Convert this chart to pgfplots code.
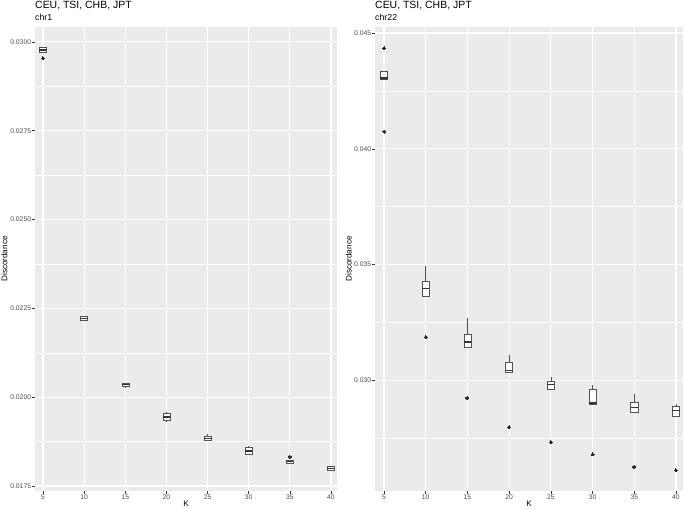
\documentclass[border=0pt]{standalone}
\usepackage{fontspec}
\setmainfont{Liberation Sans}
\usepackage{pgfplots}
\pgfplotsset{compat=1.18}
\usepgfplotslibrary{statistics}

\definecolor{panel}{HTML}{EBEBEB}
\definecolor{ticktext}{HTML}{4D4D4D}
\definecolor{boxline}{HTML}{333333}

\pgfplotsset{
  gg/.style={
    scale only axis, anchor=south west,
    height=464bp,
    axis background/.style={fill=panel},
    axis line style={draw=none},
    xmajorgrids, ymajorgrids, yminorgrids,
    major grid style={white, line width=1.1bp},
    minor grid style={white, line width=0.55bp},
    tick align=outside, major tick length=2.75bp, minor tick length=0pt,
    tick style={boxline, line width=0.5bp},
    xtick pos=bottom, ytick pos=left,
    xtick={5,10,...,40},
    ticklabel style={font=\fontsize{6.8}{8}\selectfont, text=ticktext, inner sep=1bp},
    scaled y ticks=false,
    yticklabel style={/pgf/number format/.cd, fixed, fixed zerofill, assume math mode=true},
    xticklabel style={/pgf/number format/assume math mode=true},
    label style={font=\fontsize{8.2}{10}\selectfont},
    xlabel={K}, ylabel={Discordance},
    xlabel style={at={(axis description cs:0.5,0)}, anchor=base, yshift=-15.7bp},
    boxplot/draw direction=y,
    boxplot/box extend=0.85,
    boxplot/whisker extend=0,
  },
  bx/.style={draw=boxline!85, fill=white, line width=0.5bp,
    mark=*, mark size=1.5bp, mark options={fill=black!85, draw=black!85, line width=0pt},
    boxplot/every median/.style={draw=boxline, line width=1.4bp}},
}

\begin{document}
\begin{tikzpicture}
\useasboundingbox (0,0) rectangle (685bp,510bp);

% chr1
\begin{axis}[gg, at={(35bp,19bp)}, width=302bp,
  xmin=4.03, xmax=40.73, ymin=0.01736, ymax=0.03042,
  ytick={0.0175,0.0200,0.0225,0.0250,0.0275,0.0300},
  minor ytick={0.01875,0.02125,0.02375,0.02625,0.02875},
  yticklabel style={/pgf/number format/precision=4},
  ylabel style={at={(axis description cs:-0.101,0.5)}, anchor=center}]
\addplot[bx, boxplot prepared={draw position=5, lower whisker=0.02971, lower quartile=0.02971, median=0.02977, upper quartile=0.02984, upper whisker=0.02984}] coordinates {(0,0.02954)};
\addplot[bx, boxplot prepared={draw position=10, lower whisker=0.022154, lower quartile=0.022154, median=0.02221, upper quartile=0.022266, upper whisker=0.022266}] coordinates {};
\addplot[bx, boxplot prepared={draw position=15, lower whisker=0.020251, lower quartile=0.02030, median=0.02035, upper quartile=0.02040, upper whisker=0.02040}] coordinates {};
\addplot[bx, boxplot prepared={draw position=20, lower whisker=0.019310, lower quartile=0.019338, median=0.019443, upper quartile=0.019547, upper whisker=0.019575}] coordinates {};
\addplot[bx, boxplot prepared={draw position=25, lower whisker=0.018795, lower quartile=0.018795, median=0.01884, upper quartile=0.018888, upper whisker=0.018955}] coordinates {};
\addplot[bx, boxplot prepared={draw position=30, lower whisker=0.018364, lower quartile=0.018392, median=0.018485, upper quartile=0.018578, upper whisker=0.018626}] coordinates {};
\addplot[bx, boxplot prepared={draw position=35, lower whisker=0.018148, lower quartile=0.018148, median=0.018185, upper quartile=0.018223, upper whisker=0.018223}] coordinates {(0,0.018325)};
\addplot[bx, boxplot prepared={draw position=40, lower whisker=0.01795, lower quartile=0.01795, median=0.0180, upper quartile=0.018054, upper whisker=0.018054}] coordinates {};
\end{axis}

% chr22
\begin{axis}[gg, at={(375bp,19bp)}, width=308bp,
  xmin=3.92, xmax=40.84, ymin=0.02522, ymax=0.04526,
  ytick={0.030,0.035,0.040,0.045},
  minor ytick={0.0275,0.0325,0.0375,0.0425},
  yticklabel style={/pgf/number format/precision=3},
  ylabel style={at={(axis description cs:-0.085,0.5)}, anchor=center}]
\addplot[bx, boxplot prepared={draw position=5, lower whisker=0.043004, lower quartile=0.043004, median=0.04306, upper quartile=0.043362, upper whisker=0.043362}] coordinates {(0,0.04434) (0,0.040746)};
\addplot[bx, boxplot prepared={draw position=10, lower whisker=0.033634, lower quartile=0.033634, median=0.033978, upper quartile=0.034267, upper whisker=0.034927}] coordinates {(0,0.031866)};
\addplot[bx, boxplot prepared={draw position=15, lower whisker=0.031435, lower quartile=0.031435, median=0.031651, upper quartile=0.031996, upper whisker=0.032685}] coordinates {(0,0.029237)};
\addplot[bx, boxplot prepared={draw position=20, lower whisker=0.030332, lower quartile=0.030332, median=0.030431, upper quartile=0.030763, upper whisker=0.031078}] coordinates {(0,0.027974)};
\addplot[bx, boxplot prepared={draw position=25, lower whisker=0.029612, lower quartile=0.029612, median=0.029815, upper quartile=0.029957, upper whisker=0.030129}] coordinates {(0,0.027328)};
\addplot[bx, boxplot prepared={draw position=30, lower whisker=0.028953, lower quartile=0.028953, median=0.029022, upper quartile=0.029612, upper whisker=0.029815}] coordinates {(0,0.026810)};
\addplot[bx, boxplot prepared={draw position=35, lower whisker=0.028634, lower quartile=0.028634, median=0.028823, upper quartile=0.029039, upper whisker=0.029427}] coordinates {(0,0.026263)};
\addplot[bx, boxplot prepared={draw position=40, lower whisker=0.028461, lower quartile=0.028461, median=0.028707, upper quartile=0.028892, upper whisker=0.028996}] coordinates {(0,0.026108)};
\end{axis}

\node[anchor=base west, inner sep=0pt, font=\fontsize{10.5}{12}\selectfont] at (35bp,501.3bp) {CEU, TSI, CHB, JPT};
\node[anchor=base west, inner sep=0pt, font=\fontsize{8.8}{10}\selectfont] at (35bp,489bp) {chr1};
\node[anchor=base west, inner sep=0pt, font=\fontsize{10.5}{12}\selectfont] at (375bp,501.3bp) {CEU, TSI, CHB, JPT};
\node[anchor=base west, inner sep=0pt, font=\fontsize{8.8}{10}\selectfont] at (375bp,489bp) {chr22};
\end{tikzpicture}
\end{document}
